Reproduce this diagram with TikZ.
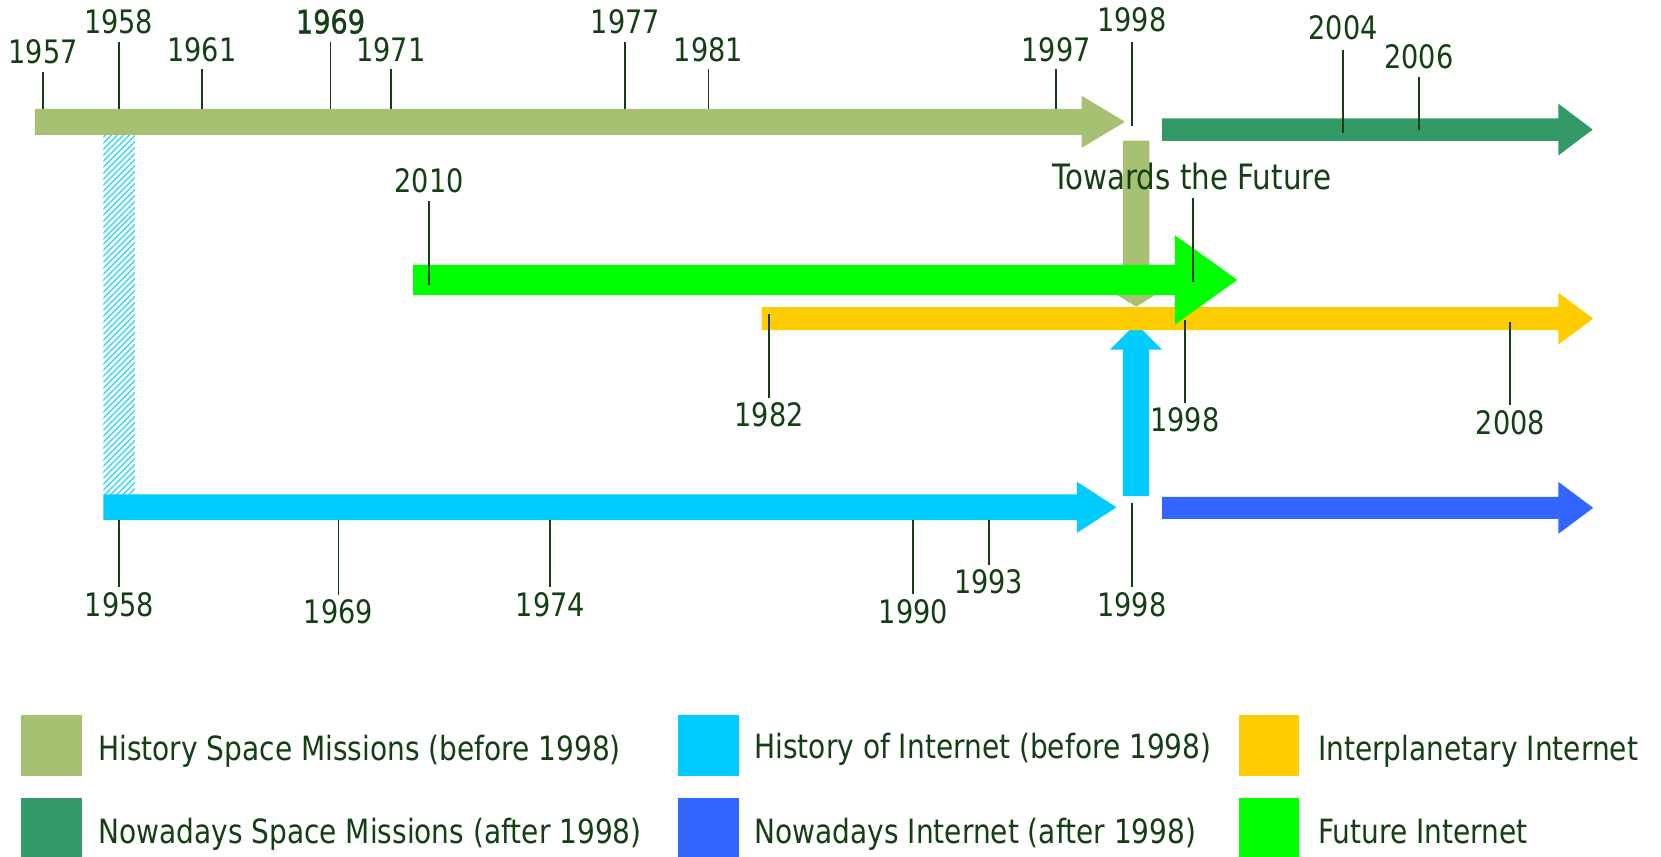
\documentclass[tikz,border=0pt]{standalone}
\usepackage{fontspec}
\setmainfont{DejaVu Sans}[FakeStretch=0.84]
\newfontfamily\semibd{DejaVu Sans}[FakeStretch=0.84, FakeBold=1.2]
\usetikzlibrary{patterns.meta}
\definecolor{olive1}{HTML}{A8C072}
\definecolor{sea}{HTML}{339966}
\definecolor{cyan1}{HTML}{00CCFF}
\definecolor{blue1}{HTML}{3366FF}
\definecolor{gold1}{HTML}{FFCC00}
\definecolor{lime1}{HTML}{00FF00}
\definecolor{ink}{RGB}{20,62,20}
\newcommand{\yrmark}[6]{%
  \node[yr,anchor=base] (L#1) at (#2,#3) {#6};
  \coordinate (A#1) at (#2,#4);
  \coordinate (B#1) at (#2,#5);
  \draw[tick] (A#1) -- (B#1);}
\begin{document}
\begin{tikzpicture}[x=1pt,y=-1pt,
  yr/.style={font=\fontsize{30.5}{36}\selectfont, text=ink, inner sep=0pt},
  tick/.style={draw=ink, line width=1.8pt},
  lgtext/.style={font=\fontsize{31.5}{38}\selectfont, text=ink, inner sep=0pt, anchor=base west},
  lgbox/.style={inner sep=0pt, minimum width=57pt, minimum height=57.5pt, anchor=north west}]
\useasboundingbox[fill=white] (0,0) rectangle (1568,809);

% hatched link between space and internet history
\fill[pattern={Lines[angle=45,distance=4pt,line width=1.4pt]}, pattern color=cyan1!75] (97.5,127.3) rectangle (127.4,466.7);

% history of space missions (top)
\fill[olive1] (33,102.7) -- (1021,102.7) -- (1021,90.4) -- (1062,115) -- (1021,139.6) -- (1021,127.3) -- (33,127.3) -- cycle;
% nowadays space missions
\fill[sea] (1097,111.7) -- (1471,111.7) -- (1471,97.8) -- (1503.5,122.3) -- (1471,146.8) -- (1471,132.9) -- (1097,132.9) -- cycle;
% history of internet (bottom)
\fill[cyan1] (97.5,466.7) -- (1016.5,466.7) -- (1016.5,454.7) -- (1054,478.9) -- (1016.5,503.1) -- (1016.5,491.1) -- (97.5,491.1) -- cycle;
% nowadays internet
\fill[blue1] (1097,469) -- (1471,469) -- (1471,454.8) -- (1504,479.4) -- (1471,504) -- (1471,489.8) -- (1097,489.8) -- cycle;
% olive down arrow
\fill[olive1] (1060,132.8) -- (1085,132.8) -- (1085,274.5) -- (1097,274.5) -- (1072.5,289.5) -- (1048,274.5) -- (1060,274.5) -- cycle;
% cyan up arrow
\fill[cyan1] (1060,468.3) -- (1084.5,468.3) -- (1084.5,330) -- (1096.8,330) -- (1072.3,305.5) -- (1047.8,330) -- (1060,330) -- cycle;
% interplanetary internet
\fill[gold1] (719,290) -- (1471,290) -- (1471,276.3) -- (1504,300.8) -- (1471,325.3) -- (1471,311.6) -- (719,311.6) -- cycle;
% future internet
\fill[lime1] (390,250) -- (1109,250) -- (1109,222) -- (1168,264.2) -- (1109,306.6) -- (1109,278.4) -- (390,278.4) -- cycle;

% top timeline marks
\yrmark{a}{40.8}{59.8}{68}{102.7}{1957}
\yrmark{b}{112}{31.5}{39.7}{102.7}{1958}
\yrmark{c}{190.5}{58.2}{65.1}{102.7}{1961}
\node[yr,anchor=base,font=\fontsize{30.5}{36}\semibd] (Ld) at (312,31.5) {1969};
\coordinate (Ad) at (312,39.7);
\coordinate (Bd) at (312,102.7);
\draw[tick] (Ad) -- (Bd);
\yrmark{e}{369}{58.2}{65.1}{102.7}{1971}
\yrmark{f}{590.4}{31.5}{39.7}{102.7}{1977}
\yrmark{g}{668.8}{58.2}{65.1}{102.7}{1981}
\yrmark{h}{996.9}{58.2}{65.1}{102.7}{1997}
\yrmark{i}{1068.6}{29.9}{39.7}{119}{1998}
\yrmark{j}{1268}{37}{47}{126}{2004}
\yrmark{k}{1339.5}{65}{73}{123}{2006}
% middle
\yrmark{l}{405}{182}{190}{269}{2010}
\node[yr,anchor=base,font=\fontsize{33}{39}\selectfont] (Lfut) at (1125,179) {Towards the Future};
\coordinate (Afut) at (1126,187);
\coordinate (Bfut) at (1126,266);
\draw[tick] (Afut) -- (Bfut);
\yrmark{m}{726}{403}{296.5}{375.7}{1982}
\yrmark{n}{1118.6}{407.5}{302}{380.6}{1998}
\yrmark{o}{1425.8}{410.6}{303.7}{382.3}{2008}
% bottom timeline marks
\yrmark{p}{112.6}{582}{491.1}{553.8}{1958}
\yrmark{q}{319.5}{589}{491.1}{561.7}{1969}
\yrmark{r}{519.5}{582}{491.1}{553.8}{1974}
\yrmark{s}{862.2}{589}{491.1}{560.8}{1990}
\yrmark{t}{933.3}{560}{491.1}{533.4}{1993}
\yrmark{u}{1068.6}{582}{475}{554}{1998}

% legend
\node[lgbox, fill=olive1] (k1) at (20,675) {};
\node[lgbox, fill=cyan1] (k2) at (640,675) {};
\node[lgbox, fill=gold1] (k3) at (1169,675) {};
\node[lgbox, fill=sea] (k4) at (20,753.5) {};
\node[lgbox, fill=blue1] (k5) at (640,753.5) {};
\node[lgbox, fill=lime1] (k6) at (1169,753.5) {};
\node[lgtext] (h1) at (92.5,718) {History Space Missions (before 1998)};
\node[lgtext] (h2) at (712,716) {History of Internet (before 1998)};
\node[lgtext] (h3) at (1244,718) {Interplanetary Internet};
\node[lgtext] (n1) at (92.5,796) {Nowadays Space Missions (after 1998)};
\node[lgtext] (n2) at (712,796) {Nowadays Internet (after 1998)};
\node[lgtext] (n3) at (1244,796) {Future Internet};
\end{tikzpicture}
\end{document}
